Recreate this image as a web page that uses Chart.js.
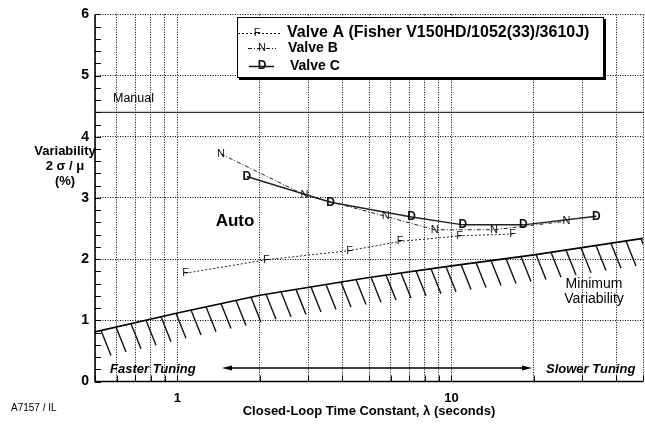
<!DOCTYPE html>
<html><head><meta charset="utf-8">
<script src="https://cdn.jsdelivr.net/npm/chart.js@4.4.0/dist/chart.umd.min.js"></script>
<style>
html,body{margin:0;padding:0;background:#fff;overflow:hidden;}
#wrap{position:relative;width:652px;height:428px;}
</style></head><body>
<div id="wrap"><canvas id="c" width="652" height="428"></canvas></div>
<script>
// ---- data ----
const xTickValues = [0.5,0.6,0.7,0.8,0.9,1,2,3,4,5,6,7,8,9,10,20,30,40,50];
const xTickLabels = {1:'1', 10:'10'};
const yTickValues = [0,1,2,3,4,5,6];
const yMinorStep = 0.2;

const valveA_x = [1.07, 2.11, 4.25, 6.5, 10.7, 16.7];
const valveA_y = [1.77, 1.99, 2.14, 2.29, 2.38, 2.41];
const valveB_x = [1.44, 2.91, 5.75, 8.68, 14.3, 26.3];
const valveB_y = [3.72, 3.05, 2.70, 2.48, 2.48, 2.62];
const valveC_x = [1.79, 3.62, 7.15, 11.0, 18.3, 33.8];
const valveC_y = [3.35, 2.93, 2.69, 2.56, 2.56, 2.70];
const minVar_x = [0.5, 1, 2, 5, 10, 20, 50];
const minVar_y = [0.81, 1.12, 1.41, 1.70, 1.89, 2.07, 2.34];
const manualLevel = 4.4;
const xRange = [0.5, 50];
const yRange = [0, 6];

const seriesNames = ['Valve A (Fisher V150HD/1052(33)/3610J)', 'Valve B', 'Valve C'];
const seriesMarkers = ['F', 'N', 'D'];

const FONT = "'Liberation Sans', Arial, sans-serif";
const pts = (xs, ys) => xs.map((x, i) => ({x, y: ys[i]}));

const markerPlugin = {
  id: 'markers',
  afterDatasetsDraw(chart) {
    const ctx = chart.ctx;
    chart.data.datasets.forEach((ds, i) => {
      if (!ds.markerChar) return;
      const meta = chart.getDatasetMeta(i);
      ctx.save();
      ctx.fillStyle = '#111';
      ctx.font = ds.markerFont;
      ctx.textAlign = 'center';
      ctx.textBaseline = 'middle';
      meta.data.forEach(p => ctx.fillText(ds.markerChar, p.x, p.y));
      ctx.restore();
    });
  }
};

function interpMin(v) {
  const lv = Math.log10(v);
  for (let i = 0; i < minVar_x.length - 1; i++) {
    const a = Math.log10(minVar_x[i]), b = Math.log10(minVar_x[i+1]);
    if (lv >= a && lv <= b) {
      const t = (lv - a) / (b - a);
      return minVar_y[i] + t * (minVar_y[i+1] - minVar_y[i]);
    }
  }
  return minVar_y[minVar_y.length - 1];
}

const hatchPlugin = {
  id: 'hatch',
  afterDatasetsDraw(chart) {
    const {ctx, chartArea: ca, scales: {x, y}} = chart;
    ctx.save();
    ctx.beginPath();
    ctx.rect(ca.left, ca.top, ca.right - ca.left, ca.bottom - ca.top);
    ctx.clip();
    ctx.strokeStyle = '#111';
    ctx.lineWidth = 1.4;
    for (let px = ca.left + 6; px < ca.right; px += 15) {
      const v = x.getValueForPixel(px);
      const py = y.getPixelForValue(interpMin(v));
      ctx.beginPath();
      ctx.moveTo(px, py);
      ctx.lineTo(px + 10, py + 25);
      ctx.stroke();
    }
    ctx.restore();
  }
};

const axisTickPlugin = {
  id: 'axisTicks',
  afterDraw(chart) {
    const {ctx, chartArea: ca, scales: {x, y}} = chart;
    ctx.save();
    ctx.strokeStyle = '#000';
    ctx.lineWidth = 1.5;
    ctx.beginPath();
    ctx.moveTo(ca.left, ca.top); ctx.lineTo(ca.left, ca.bottom); ctx.lineTo(ca.right, ca.bottom);
    ctx.stroke();
    ctx.lineWidth = 1;
    for (let v = yRange[0]; v <= yRange[1] + 1e-9; v += yMinorStep) {
      const py = Math.round(y.getPixelForValue(v)) + 0.5;
      ctx.beginPath(); ctx.moveTo(ca.left, py); ctx.lineTo(ca.left + 6, py); ctx.stroke();
    }
    xTickValues.forEach(v => {
      const px = Math.round(x.getPixelForValue(v)) + 0.5;
      ctx.beginPath(); ctx.moveTo(px, ca.bottom); ctx.lineTo(px, ca.bottom - 6); ctx.stroke();
    });
    ctx.restore();
  }
};

const textPlugin = {
  id: 'texts',
  afterDraw(chart) {
    const ctx = chart.ctx;
    ctx.save();
    ctx.fillStyle = '#000';
    ctx.textBaseline = 'middle';
    // y title
    ctx.textAlign = 'center';
    ctx.font = 'bold 13px ' + FONT;
    ctx.fillText('Variability', 65, 151);
    ctx.fillText('2 σ / μ', 65, 166);
    ctx.fillText('(%)', 65, 181);
    // in-plot labels
    ctx.textAlign = 'left';
    ctx.font = '12.5px ' + FONT;
    ctx.fillText('Manual', 113, 99);
    ctx.textAlign = 'center';
    ctx.font = 'bold 17px ' + FONT;
    ctx.fillText('Auto', 235, 221);
    ctx.font = '14px ' + FONT;
    ctx.fillText('Minimum', 594, 284);
    ctx.fillText('Variability', 594, 299);
    ctx.textAlign = 'left';
    ctx.font = 'italic bold 13px ' + FONT;
    ctx.fillText('Faster Tuning', 110, 369);
    ctx.fillText('Slower Tuning', 546, 369);
    // arrow
    ctx.strokeStyle = '#000';
    ctx.lineWidth = 1.5;
    ctx.beginPath(); ctx.moveTo(228, 368); ctx.lineTo(526, 368); ctx.stroke();
    ctx.beginPath(); ctx.moveTo(222, 368); ctx.lineTo(232, 365.5); ctx.lineTo(232, 370.5); ctx.closePath(); ctx.fill();
    ctx.beginPath(); ctx.moveTo(532, 368); ctx.lineTo(522, 365.5); ctx.lineTo(522, 370.5); ctx.closePath(); ctx.fill();
    // figure code
    ctx.font = '10px ' + FONT;
    ctx.fillText('A7157 / IL', 11, 408);
    // legend
    ctx.fillStyle = '#000';
    ctx.fillRect(239, 19, 367, 61);
    ctx.fillStyle = '#fff';
    ctx.fillRect(237, 17, 367, 61);
    ctx.strokeStyle = '#000';
    ctx.lineWidth = 1;
    ctx.strokeRect(237.5, 17.5, 366, 60);
    const rows = [
      {y: 33, x0: 238, x1: 281, mx: 257, dash: [2,2], w: 1, font: 'bold 16px ', tx: 287, mfont: '11px '},
      {y: 48, x0: 248, x1: 276, mx: 262, dash: [4,2,1,2], w: 1, font: 'bold 14px ', tx: 288, mfont: '11px '},
      {y: 66, x0: 249, x1: 274, mx: 262, dash: [], w: 1.5, font: 'bold 14px ', tx: 290, mfont: 'bold 12px '}
    ];
    rows.forEach((r, i) => {
      ctx.strokeStyle = '#111';
      ctx.lineWidth = r.w;
      ctx.setLineDash(r.dash);
      ctx.beginPath(); ctx.moveTo(r.x0, r.y + 0.5); ctx.lineTo(r.x1, r.y + 0.5); ctx.stroke();
      ctx.setLineDash([]);
      ctx.fillStyle = '#111';
      ctx.textAlign = 'center';
      ctx.font = r.mfont + FONT;
      ctx.fillText(seriesMarkers[i], r.mx, r.y);
      ctx.textAlign = 'left';
      ctx.font = r.font + FONT;
      ctx.fillStyle = '#000';
      ctx.fillText(seriesNames[i], r.tx, r.y);
    });
    ctx.restore();
  }
};

new Chart(document.getElementById('c'), {
  type: 'scatter',
  data: {
    datasets: [
      {label: 'Manual', data: pts(xRange, [manualLevel, manualLevel]), showLine: true,
       borderColor: '#333', borderWidth: 1.3, pointRadius: 0, tension: 0},
      {label: 'Minimum Variability', data: pts(minVar_x, minVar_y), showLine: true,
       borderColor: '#000', borderWidth: 1.6, pointRadius: 0, tension: 0},
      {label: seriesNames[0], data: pts(valveA_x, valveA_y), showLine: true,
       borderColor: '#222', borderWidth: 1, borderDash: [2,2], pointRadius: 0, tension: 0,
       markerChar: seriesMarkers[0], markerFont: '11px ' + FONT},
      {label: seriesNames[1], data: pts(valveB_x, valveB_y), showLine: true,
       borderColor: '#222', borderWidth: 1, borderDash: [4,2,1,2], pointRadius: 0, tension: 0,
       markerChar: seriesMarkers[1], markerFont: '11px ' + FONT},
      {label: seriesNames[2], data: pts(valveC_x, valveC_y), showLine: true,
       borderColor: '#222', borderWidth: 1.5, pointRadius: 0, tension: 0,
       markerChar: seriesMarkers[2], markerFont: 'bold 12px ' + FONT}
    ]
  },
  options: {
    responsive: false,
    animation: false,
    devicePixelRatio: 1,
    layout: {padding: {top: 8, right: 3, left: 0, bottom: 0}},
    plugins: {legend: {display: false}, tooltip: {enabled: false}},
    scales: {
      x: {
        type: 'logarithmic', min: xRange[0], max: xRange[1],
        afterFit(s) { s.height = 46.5; },
        afterBuildTicks(s) { s.ticks = xTickValues.map(v => ({value: v})); },
        grid: {color: '#000', lineWidth: 1, drawTicks: false},
        border: {display: false, color: '#000', width: 1.5, dash: [1,1.5]},
        ticks: {
          autoSkip: false, maxRotation: 0, padding: 9, color: '#000',
          font: {family: FONT, size: 13, weight: 'bold'},
          callback: (v) => xTickLabels[v] || ''
        },
        title: {display: true, text: 'Closed-Loop Time Constant, λ (seconds)', color: '#000',
          font: {family: FONT, size: 13, weight: 'bold'}, padding: {top: 0, bottom: 9}}
      },
      y: {
        min: yRange[0], max: yRange[1],
        afterFit(s) { s.width = 95; },
        afterBuildTicks(s) { s.ticks = yTickValues.map(v => ({value: v})); },
        grid: {color: '#000', lineWidth: 1, drawTicks: false},
        border: {display: false, color: '#000', width: 1.5, dash: [1,1.5]},
        ticks: {padding: 6, color: '#000', font: {family: FONT, size: 14, weight: 'bold'},
          callback: (v) => String(v)}
      }
    }
  },
  plugins: [hatchPlugin, markerPlugin, axisTickPlugin, textPlugin]
});
</script>
</body></html>
